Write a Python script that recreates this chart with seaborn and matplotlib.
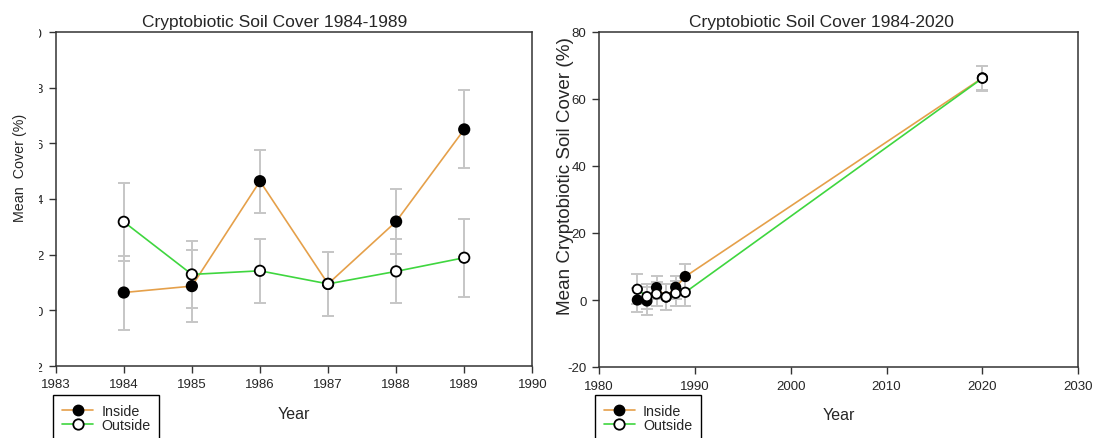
import matplotlib
matplotlib.use("Agg")
import matplotlib.pyplot as plt
from matplotlib.lines import Line2D
from matplotlib.patches import Rectangle
import pandas as pd
import seaborn as sns

# 1984-1989 survey: mean cryptobiotic soil cover (%) with standard errors
years = [1984, 1985, 1986, 1987, 1988, 1989]
inside_mean = [0.64, 0.87, 4.64, 0.95, 3.19, 6.50]
inside_err = [1.33, 1.28, 1.13, 1.14, 1.17, 1.40]
outside_mean = [3.18, 1.29, 1.42, 0.95, 1.40, 1.89]
outside_err = [1.40, 1.19, 1.16, 1.14, 1.15, 1.40]

# 1984-2020 comparison, including the 2020 resurvey
years_all = [1984, 1985, 1986, 1987, 1988, 1989, 2020]
inside_all_mean = [0.0, -0.3, 3.7, 0.9, 3.8, 7.0, 66.3]
inside_all_err = [3.6, 4.2, 3.4, 3.8, 3.5, 3.8, 3.7]
outside_all_mean = [3.2, 1.0, 1.8, 0.9, 2.0, 2.3, 66.2]
outside_all_err = [4.5, 3.8, 3.7, 3.8, 3.7, 4.2, 3.7]

sites = ["Inside", "Outside"]
short_xticks = [1983, 1984, 1985, 1986, 1987, 1988, 1989, 1990]
short_yticks = [-2, 0, 2, 4, 6, 8, 10]
long_xticks = [1980, 1990, 2000, 2010, 2020, 2030]
long_yticks = [-20, 0, 20, 40, 60, 80]

sns.set_theme(style="white")
plt.rcParams["font.family"] = ["Liberation Sans", "DejaVu Sans"]
plt.rcParams["axes.unicode_minus"] = False

INSIDE_LINE = "#E5A04A"
OUTSIDE_LINE = "#3FD63F"
ERR_COLOR = "#C6C6C6"
AXIS_COLOR = "#333333"

W, H = 1094, 439
fig = plt.figure(figsize=(W / 100, H / 100), dpi=100)
ax1 = fig.add_axes([55.7 / W, 1 - 367 / H, 476.6 / W, 334 / H])
ax2 = fig.add_axes([599 / W, 1 - 368 / H, 479.3 / W, 335 / H])


def draw_panel(ax, yrs, ins, ins_err, outs, outs_err, msize):
    n = len(yrs)
    df = pd.DataFrame({
        "Year": list(yrs) * 2,
        "Cover": list(ins) + list(outs),
        "Err": list(ins_err) + list(outs_err),
        "Site": ["Inside"] * n + ["Outside"] * n,
    })
    ax.errorbar(df["Year"], df["Cover"], yerr=df["Err"], fmt="none",
                ecolor=ERR_COLOR, elinewidth=1.4, capsize=4.5, capthick=1.4,
                zorder=1)
    sns.lineplot(data=df, x="Year", y="Cover", hue="Site", hue_order=sites,
                 palette={"Inside": INSIDE_LINE, "Outside": OUTSIDE_LINE},
                 linewidth=1.2, legend=False, ax=ax, zorder=2)
    sns.scatterplot(data=df, x="Year", y="Cover", hue="Site", hue_order=sites,
                    palette={"Inside": "black", "Outside": "white"},
                    edgecolor="black", linewidth=1.3, s=msize, legend=False,
                    ax=ax, zorder=3)
    ax.set_ylabel("")
    ax.set_xlabel("Year", fontsize=11.5)
    ax.xaxis.set_label_coords(0.5, -0.12)
    for sp in ax.spines.values():
        sp.set_visible(True)
        sp.set_color(AXIS_COLOR)
        sp.set_linewidth(1.1)
    ax.tick_params(axis="both", direction="out", length=5, width=1,
                   color=AXIS_COLOR, labelsize=9.5, pad=4,
                   bottom=True, left=True, top=False, right=False)
    ax.grid(False)


draw_panel(ax1, years, inside_mean, inside_err, outside_mean, outside_err, 56)
ax1.set_xlim(1983, 1990)
ax1.set_ylim(-2, 10)
ax1.set_xticks(short_xticks)
ax1.set_yticks(short_yticks)
ax1.set_title("Cryptobiotic Soil Cover 1984-1989", fontsize=12.5, x=0.46, pad=4)

draw_panel(ax2, years_all, inside_all_mean, inside_all_err,
           outside_all_mean, outside_all_err, 46)
ax2.set_xlim(1980, 2030)
ax2.set_ylim(-20, 80)
ax2.set_xticks(long_xticks)
ax2.set_yticks(long_yticks)
ax2.set_title("Cryptobiotic Soil Cover 1984-2020", fontsize=12.5, x=0.4645, pad=4)

# white margin strip at the left edge of the figure
fig.add_artist(Rectangle((0, 1 - 378 / H), 38.5 / W, 360 / H,
                         transform=fig.transFigure, facecolor="white",
                         edgecolor="none", zorder=5))

fig.text(20 / W, 1 - 168 / H, "Mean  Cover (%)", rotation=90,
         ha="center", va="center", fontsize=10.3, zorder=6)
fig.text(565 / W, 1 - 176 / H, "Mean Cryptobiotic Soil Cover (%)", rotation=90,
         ha="center", va="center", fontsize=13.6, zorder=6)

handles = [
    Line2D([], [], color=INSIDE_LINE, lw=1.2, marker="o", markersize=7.5,
           markerfacecolor="black", markeredgecolor="black"),
    Line2D([], [], color=OUTSIDE_LINE, lw=1.2, marker="o", markersize=7.5,
           markerfacecolor="white", markeredgecolor="black", markeredgewidth=1.3),
]
for left_px in (53.3, 595):
    leg = fig.legend(handles, sites, loc="upper left",
                     bbox_to_anchor=(left_px / W, 1 - 396 / H),
                     bbox_transform=fig.transFigure, frameon=True,
                     fancybox=False, edgecolor="black", fontsize=10.3,
                     handlelength=2.2, handletextpad=0.55, borderpad=0.6,
                     labelspacing=0.0, borderaxespad=0)
    leg.get_frame().set_linewidth(1.0)
    leg.get_frame().set_alpha(1)

fig.savefig("out.png", dpi=100)
